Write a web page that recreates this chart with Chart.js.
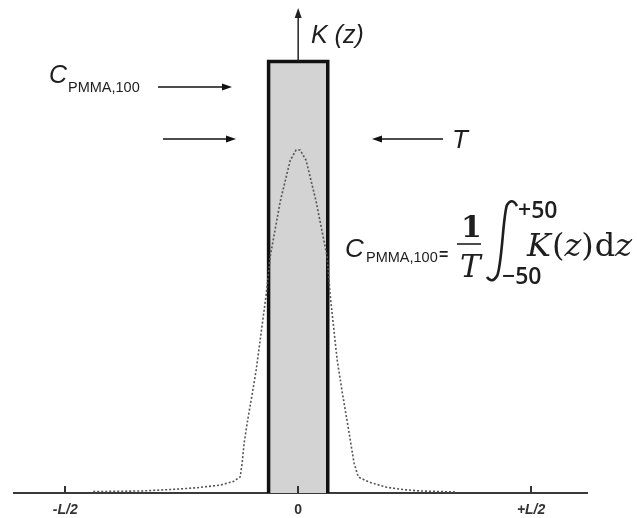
<!DOCTYPE html>
<html>
<head>
<meta charset="utf-8">
<script src="https://cdn.jsdelivr.net/npm/chart.js@4.4.1/dist/chart.umd.min.js"></script>
<style>
  html, body { margin: 0; padding: 0; background: #fff; }
  #wrap { width: 637px; height: 518px; }
</style>
</head>
<body>
<div id="wrap"><canvas id="kz-chart" width="637" height="518"></canvas></div>
<script>
// z as a fraction of L/2, K(z) normalised to the peak
const zPos = [-0.88, -0.67, -0.55, -0.44, -0.335, -0.28, -0.249, -0.24, -0.232, -0.215, -0.197, -0.18, -0.137, -0.12, -0.077, -0.034, -0.009,
              0.009, 0.034, 0.077, 0.124, 0.137, 0.167, 0.19, 0.215, 0.24, 0.258, 0.29, 0.318, 0.378, 0.45, 0.52, 0.674];
const kVal = [0.004, 0.006, 0.01, 0.015, 0.023, 0.033, 0.047, 0.09, 0.146, 0.22, 0.29, 0.36, 0.58, 0.69, 0.85, 0.97, 1.0,
              1.0, 0.97, 0.85, 0.69, 0.58, 0.39, 0.29, 0.19, 0.087, 0.047, 0.036, 0.029, 0.017, 0.01, 0.006, 0.003];

// the 100 mm chamber window (T) and the equivalent constant level C_PMMA,100
const rectZ = [-0.127, -0.127, 0.127, 0.127];
const rectK = [0, 1.258, 1.258, 0];

const tickValues = [-1, 0, 1];
const tickLabels = ['-L/2', '0', '+L/2'];

const yTop = 1.414;

function arrow(ctx, x1, y1, x2, y2, len, half) {
  const a = Math.atan2(y2 - y1, x2 - x1);
  ctx.beginPath();
  ctx.moveTo(x1, y1);
  ctx.lineTo(x2 - Math.cos(a) * len * 0.6, y2 - Math.sin(a) * len * 0.6);
  ctx.stroke();
  ctx.beginPath();
  ctx.moveTo(x2, y2);
  ctx.lineTo(x2 - Math.cos(a) * len - Math.sin(a) * half, y2 - Math.sin(a) * len + Math.cos(a) * half);
  ctx.lineTo(x2 - Math.cos(a) * len + Math.sin(a) * half, y2 - Math.sin(a) * len - Math.cos(a) * half);
  ctx.closePath();
  ctx.fill();
}

function txt(ctx, s, x, y, font) {
  ctx.font = font;
  ctx.fillText(s, x, y);
  return x + ctx.measureText(s).width;
}

const whiteBg = {
  id: 'whiteBg',
  beforeDraw(chart) {
    const ctx = chart.ctx;
    ctx.save();
    ctx.fillStyle = '#fff';
    ctx.fillRect(0, 0, chart.width, chart.height);
    ctx.restore();
  }
};

const notes = {
  id: 'notes',
  afterDraw(chart) {
    const ctx = chart.ctx;
    const xs = chart.scales.x, ys = chart.scales.y;
    const y0 = ys.getPixelForValue(0);
    ctx.save();
    ctx.strokeStyle = '#333';
    ctx.fillStyle = '#222';
    ctx.lineWidth = 2;
    // small tick marks standing up from the axis
    tickValues.forEach(v => {
      const px = Math.round(xs.getPixelForValue(v));
      ctx.beginPath();
      ctx.moveTo(px, y0);
      ctx.lineTo(px, y0 - 7);
      ctx.stroke();
    });

    // K(z) axis arrow
    ctx.strokeStyle = '#222';
    ctx.lineWidth = 1.5;
    const xc = xs.getPixelForValue(0);
    arrow(ctx, xc, ys.getPixelForValue(rectK[1]), xc, ys.getPixelForValue(yTop), 10, 3.5);

    // horizontal arrows
    ctx.strokeStyle = '#111';
    ctx.fillStyle = '#111';
    arrow(ctx, 158, 87, 232, 87, 10, 3.5);
    arrow(ctx, 163, 139, 236, 139, 10, 3.5);
    arrow(ctx, 443, 139, 372, 139, 10, 3.5);

    ctx.fillStyle = '#1e1e1e';
    ctx.textAlign = 'left';
    ctx.textBaseline = 'alphabetic';
    txt(ctx, 'K (z)', 311, 43, 'italic 25px "Liberation Sans", Arial, sans-serif');
    txt(ctx, 'T', 452, 148, 'italic 26px "Liberation Sans", Arial, sans-serif');
    txt(ctx, 'C', 49, 83, 'italic 25px "Liberation Sans", Arial, sans-serif');
    txt(ctx, 'PMMA,100', 68, 92, '14.5px "Liberation Sans", Arial, sans-serif');

    // C_PMMA,100 = 1/T \int_{-50}^{+50} K(z) dz
    txt(ctx, 'C', 345, 257, 'italic 26px "Liberation Sans", Arial, sans-serif');
    txt(ctx, 'PMMA,100', 366, 262, '14.5px "Liberation Sans", Arial, sans-serif');
    txt(ctx, '=', 439, 260, 'bold 16px "Liberation Sans", Arial, sans-serif');
    txt(ctx, '1', 461, 237, 'bold 30px "DejaVu Serif", serif');
    ctx.lineWidth = 1.6;
    ctx.strokeStyle = '#1e1e1e';
    ctx.beginPath();
    ctx.moveTo(457, 244);
    ctx.lineTo(481, 244);
    ctx.stroke();
    txt(ctx, 'T', 460, 277, 'italic 31px "DejaVu Serif", serif');
    // integral sign
    ctx.lineWidth = 2.6;
    ctx.beginPath();
    ctx.moveTo(517, 206);
    ctx.quadraticCurveTo(512, 197, 507, 205);
    ctx.bezierCurveTo(503, 215, 502, 266, 497, 276);
    ctx.quadraticCurveTo(492, 284, 487, 277);
    ctx.stroke();
    txt(ctx, '+50', 518, 218, '600 23px "Open Sans", sans-serif');
    txt(ctx, '\u221250', 502, 284, '600 23px "Open Sans", sans-serif');
    const sf = '"DejaVu Serif", serif';
    let x0 = 527;
    x0 = txt(ctx, 'K', x0, 256, 'italic 32px ' + sf);
    x0 = txt(ctx, '(', x0 + 1, 256, '32px ' + sf);
    x0 = txt(ctx, 'z', x0, 256, 'italic 32px ' + sf);
    x0 = txt(ctx, ')', x0, 256, '32px ' + sf);
    x0 = txt(ctx, 'd', x0 + 1, 256, '32px ' + sf);
    txt(ctx, 'z', x0, 256, 'italic 32px ' + sf);
    ctx.restore();
  }
};

const config = {
  type: 'scatter',
  data: {
    datasets: [
      {
        label: 'K(z)',
        data: zPos.map((z, i) => ({ x: z, y: kVal[i] })),
        showLine: true,
        borderColor: '#555',
        borderWidth: 1.6,
        borderDash: [2, 2],
        pointRadius: 0,
        fill: false,
        order: 1
      },
      {
        label: 'window',
        data: rectZ.map((z, i) => ({ x: z, y: rectK[i] })),
        showLine: true,
        borderColor: '#111',
        borderWidth: 3.5,
        backgroundColor: '#d3d3d3',
        fill: 'origin',
        pointRadius: 0,
        order: 2
      }
    ]
  },
  options: {
    responsive: false,
    animation: false,
    devicePixelRatio: 1,
    layout: { padding: { left: 14, right: 50, top: 8, bottom: 0 } },
    plugins: { legend: { display: false }, tooltip: { enabled: false } },
    scales: {
      x: {
        type: 'linear',
        min: -1.22,
        max: 1.24,
        afterBuildTicks: s => { s.ticks = tickValues.map(v => ({ value: v })); },
        afterFit: s => { s.height = 25; },
        grid: { display: false, drawTicks: false },
        border: { display: true, color: '#3a3a3a', width: 2 },
        ticks: {
          padding: 9,
          color: '#333',
          autoSkip: false,
          maxRotation: 0,
          font: ctx => ({ family: '"Liberation Sans", Arial, sans-serif', size: 14, weight: 'bold',
                          style: ctx.tick && ctx.tick.value !== 0 ? 'italic' : 'normal' }),
          callback: v => tickLabels[tickValues.indexOf(v)]
        }
      },
      y: {
        type: 'linear',
        display: false,
        min: 0,
        max: yTop
      }
    }
  },
  plugins: [whiteBg, notes]
};

new Chart(document.getElementById('kz-chart'), config);
</script>
</body>
</html>
